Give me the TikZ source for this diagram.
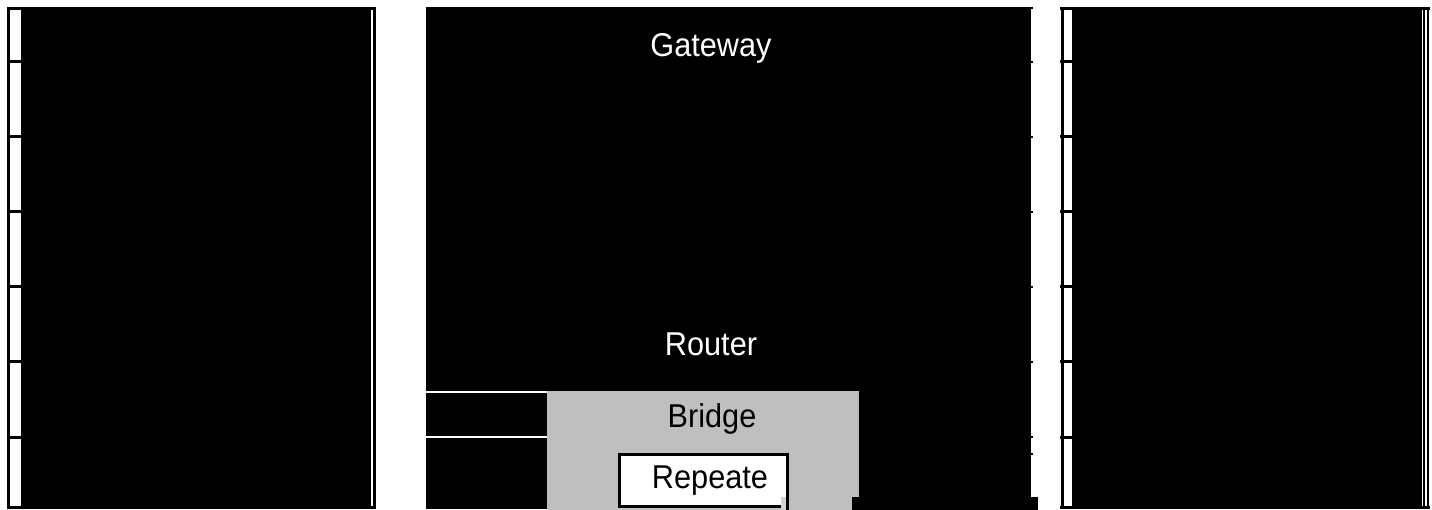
\documentclass[tikz,border=0pt]{standalone}
\usepackage{fontspec}
\setmainfont{Liberation Sans}
\newfontfamily\lblfont[FakeStretch=0.93]{Liberation Sans}
\begin{document}
\begin{tikzpicture}[x=1pt,y=-1pt,
  frame/.style={line width=3pt,black},
  blk/.style={fill=black},
  lbl/.style={font=\lblfont\fontsize{33}{34}\selectfont,inner sep=0pt,anchor=center},
  thinwhite/.style={line width=1.5pt,white}]
\useasboundingbox (0,0) rectangle (1432,510);
\fill[white] (0,0) rectangle (1432,510);
% ---------- left column ----------
\fill[blk] (21,9) rectangle (371,507);
\draw[frame] (8.5,7) -- (8.5,509);
\draw[frame] (374.5,7) -- (374.5,509);
\draw[frame] (7,8.5) -- (376,8.5);
\draw[frame] (7,507.5) -- (376,507.5);
\foreach \yy in {62,137,212,287,362,437} \draw[frame] (7,\yy) -- (21,\yy);
% ---------- middle column ----------
\fill[blk] (426,7) rectangle (1031,509);
\foreach \yy in {8,62,137,212,287,362,437,454} \draw[line width=2pt] (1029,\yy) -- (1033,\yy);
\draw[thinwhite] (426,392) -- (547,392);
\draw[thinwhite] (426,437) -- (547,437);
\fill[gray!50] (547,391) rectangle (859,510);
\fill[white] (619,454) rectangle (787,507);
\draw[frame] (619.5,453) -- (619.5,508);
\draw[frame] (787.5,453) -- (787.5,510);
\draw[frame] (618,454.5) -- (789,454.5);
\draw[frame] (618,506.5) -- (789,506.5);
\fill[gray!35] (781,497) rectangle (786,510);
\fill[blk] (852,497) rectangle (1038,510);
% ---------- right column ----------
\fill[blk] (1072,9) rectangle (1422,507);
\draw[frame] (1062.5,7) -- (1062.5,509);
\draw[line width=2pt] (1424,7) -- (1424,509);
\draw[line width=2.5pt] (1428,7) -- (1428,509);
\draw[frame] (1060,8.5) -- (1430,8.5);
\draw[frame] (1060,507.5) -- (1430,507.5);
\foreach \yy in {62,137,212,287,362,437} \draw[frame] (1060,\yy) -- (1072,\yy);
% ---------- labels ----------
\node[lbl,text=white] (gateway) at (711,48) {Gateway};
\node[lbl,text=white] (router) at (711,344) {Router};
\node[lbl,text=black] (bridge) at (712,419) {Bridge};
\node[lbl,text=black] (repeater) at (710,481) {Repeate};
\end{tikzpicture}
\end{document}
